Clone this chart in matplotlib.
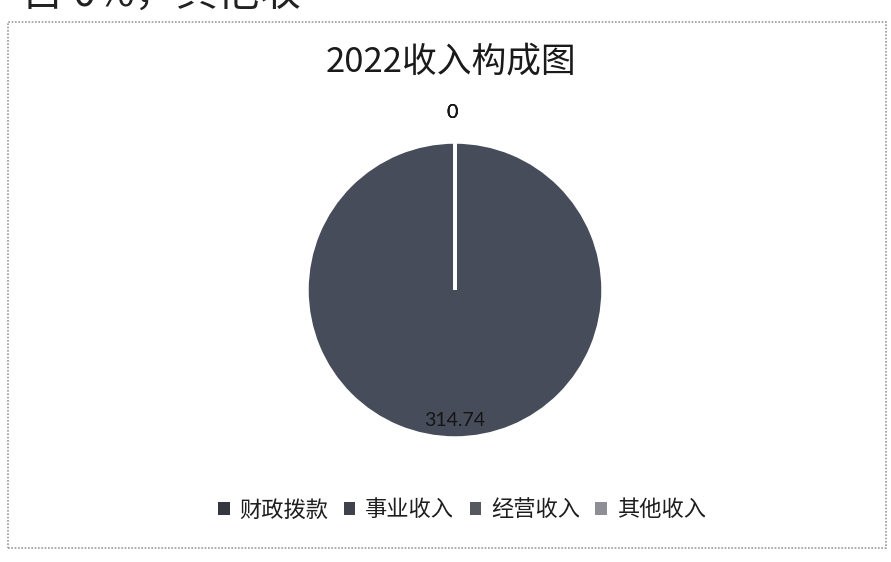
import matplotlib
matplotlib.use("Agg")
import matplotlib.pyplot as plt
from matplotlib.patches import Rectangle, Patch
import numpy as np

plt.rcParams['font.family'] = ['Noto Sans CJK SC', 'DejaVu Sans']

# 2022 income breakdown
categories = ['财政拨款', '事业收入', '经营收入', '其他收入']
values = [314.74, 0, 0, 0]
value_labels = ['314.74', '0', '0', '0']
title = '2022收入构成图'

pie_color = '#474c5b'
legend_colors = ['#34373f', '#3f424a', '#55585f', '#8d8f94']

W, H = 891, 562
fig = plt.figure(figsize=(W / 100, H / 100), dpi=100)
fig.patch.set_facecolor('white')

# line of body text running above the chart frame (only its lower edge is on the page)
fig.text(22 / W, 1 - 6 / H, '占 0%，其他收', fontsize=30, color='#222222',
         ha='left', va='baseline')

# chart frame
fig.patches.append(Rectangle((8 / W, 14 / H), (886 - 8) / W, (548 - 22) / H,
                             transform=fig.transFigure, fill=False,
                             edgecolor='#9a9a9a', linewidth=1.2,
                             linestyle=(0, (1, 1))))

fig.text(451 / W, 1 - 62 / H, title, fontsize=25, color='#1a1a1a',
         ha='center', va='center')

cx, cy, r = 455, 290, 148
ax = fig.add_axes([(cx - r) / W, (H - cy - r) / H, 2 * r / W, 2 * r / H])
wedges, _ = ax.pie(values, startangle=90, counterclock=False,
                   colors=[pie_color] * len(values),
                   wedgeprops=dict(edgecolor='white', linewidth=2.5))
ax.set_xlim(-1, 1)
ax.set_ylim(-1, 1)
ax.set_aspect('equal')
ax.axis('off')

# data labels: inside for the real slice, outside for the empty ones
for w, lab, v in zip(wedges, value_labels, values):
    ang = np.deg2rad((w.theta1 + w.theta2) / 2)
    dist = 0.88 if v > 0 else 1.2
    ax.text(dist * np.cos(ang) - (0.02 if v == 0 else 0), dist * np.sin(ang), lab,
            ha='center', va='center', fontsize=14, color='#151515',
            family=['Lato', 'DejaVu Sans'], clip_on=False)

handles = [Patch(facecolor=c, edgecolor='none') for c in legend_colors]
fig.legend(handles, categories, loc='center', bbox_to_anchor=(462 / W, 1 - 510 / H),
           ncol=4, frameon=False, fontsize=16, handlelength=0.5, handleheight=0.5,
           handletextpad=0.45, columnspacing=0.7, labelcolor='#1e1e1e')

fig.savefig('out.png', dpi=100, facecolor='white')
